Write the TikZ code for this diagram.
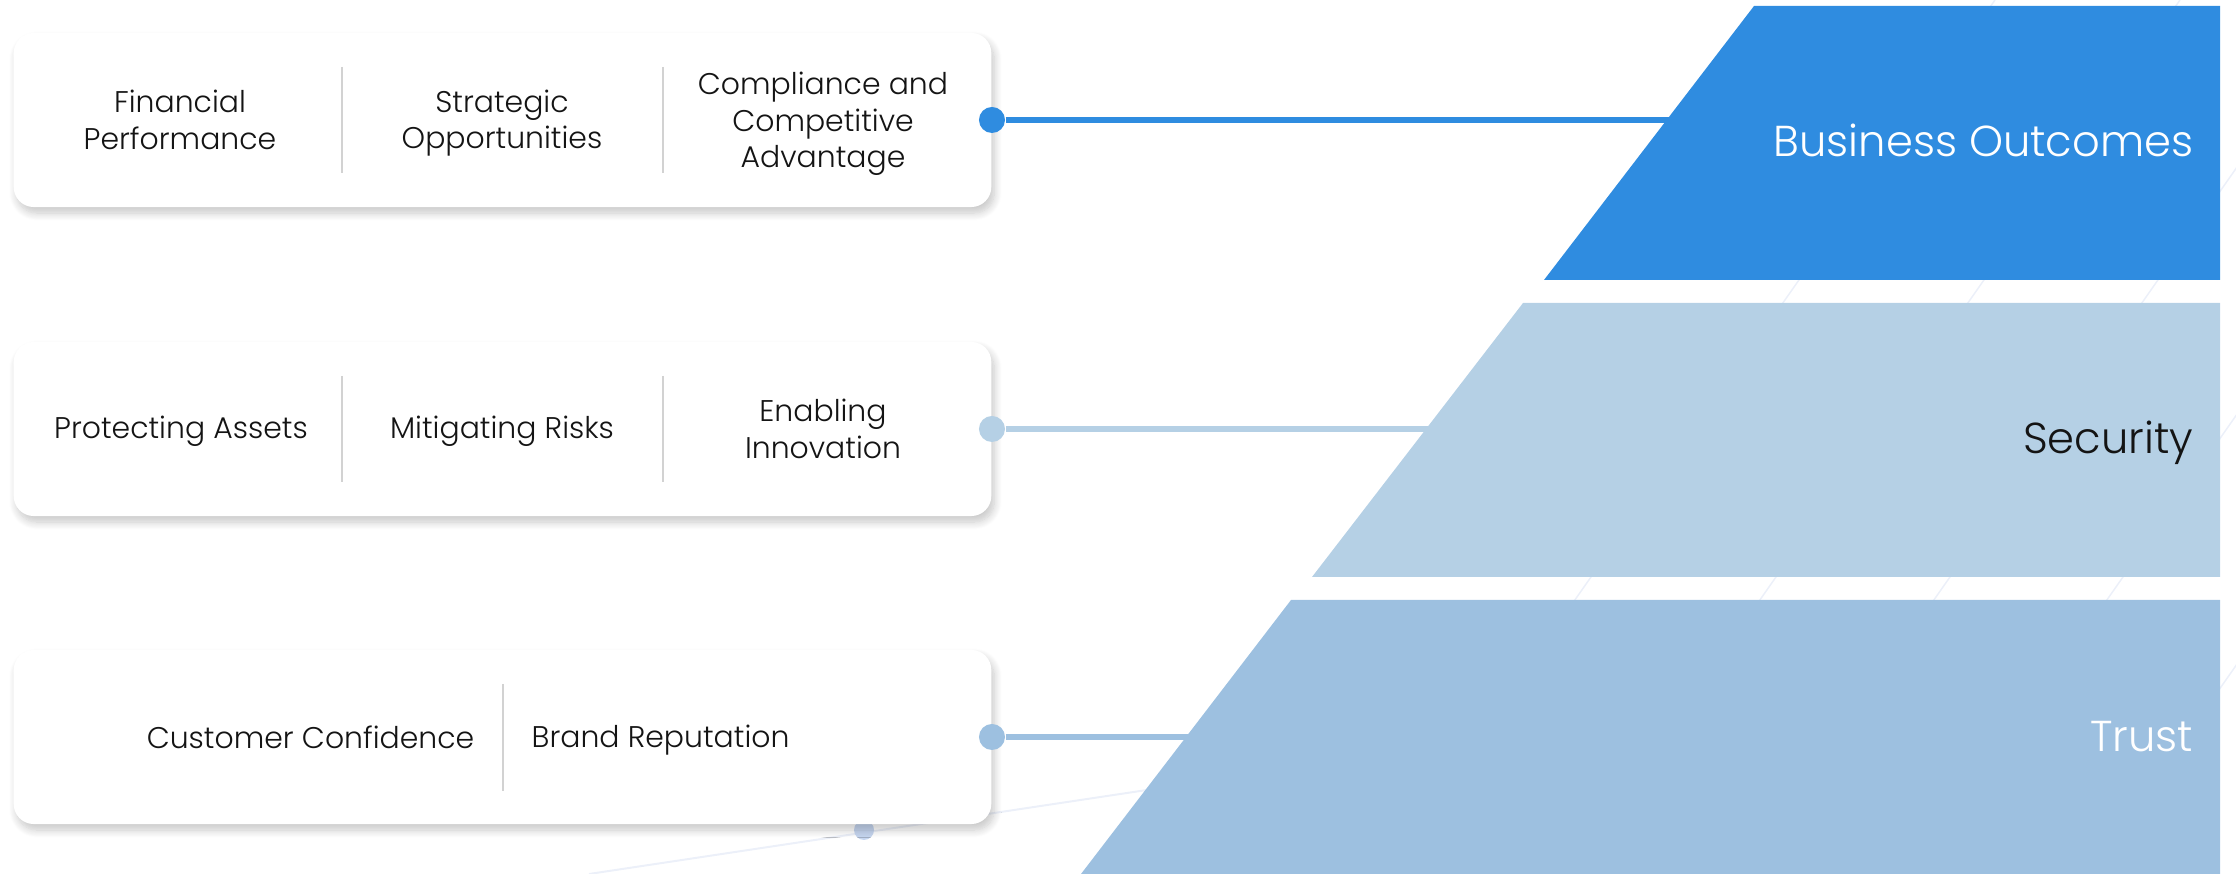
\documentclass[tikz,border=0pt]{standalone}
\usepackage{fontspec}
\setmainfont{Poppins}[UprightFont=* Light]
\usetikzlibrary{positioning, calc, shadows.blur}
\definecolor{outcomeblue}{RGB}{47,140,224}
\definecolor{securityblue}{RGB}{181,208,229}
\definecolor{trustblue}{RGB}{157,192,224}
\definecolor{dividergray}{RGB}{210,210,210}
\definecolor{faintline}{RGB}{236,240,249}
\definecolor{faintdot}{RGB}{198,214,240}
\definecolor{textblack}{RGB}{20,20,20}

\begin{document}
\begin{tikzpicture}[x=0.01cm, y=-0.01cm,
    card/.style={fill=white, rounded corners=0.2cm, minimum width=9.77cm, minimum height=1.74cm,
      blur shadow={shadow xshift=0.03cm, shadow yshift=-0.06cm, shadow opacity=22, shadow blur steps=10}},
    itemtext/.style={align=center, font=\fontsize{8.5}{10.3}\selectfont, text=textblack, inner sep=0pt},
    layerlabel/.style={anchor=base east, font=\fontsize{12.3}{14}\selectfont, inner sep=0pt},
    layerdot/.style={circle, inner sep=0pt, minimum size=0.26cm},
    link/.style={line width=0.06cm},
    divider/.style={dividergray, line width=0.015cm}]
  \useasboundingbox (0,0) rectangle (2236,874);

  % faint background strokes
  \foreach \x in {1383,1568,1742,1915,2090} {
    \draw[faintline, line width=0.015cm] (\x,874) -- ++(612,-874);
  }
  \draw[faintline, line width=0.02cm] (589,874) -- (1200,782);
  \fill[faintdot] (864,830) circle (10);

  % cards
  \node[card] (outcomecard) at (502.5,120) {};
  \node[card] (securitycard) at (502.5,429) {};
  \node[card] (trustcard) at (502.5,737) {};

  \foreach \x in {342,663} {
    \draw[divider] (\x,67) -- (\x,173);
    \draw[divider] (\x,376) -- (\x,482);
  }
  \draw[divider] (503,684) -- (503,791);

  \node[itemtext] (financial) at (180,120) {Financial\\Performance};
  \node[itemtext] (strategic) at (502,123) {Strategic\\Opportunities};
  \node[itemtext] (compliance) at (823,124) {Compliance and\\Competitive\\Advantage};

  \node[itemtext] (protecting) at (181,431) {Protecting Assets};
  \node[itemtext] (mitigating) at (502,431) {Mitigating Risks};
  \node[itemtext] (enabling) at (823,429) {Enabling\\Innovation};

  \node[itemtext, anchor=east] (customer) at (475,737) {Customer Confidence};
  \node[itemtext, anchor=west] (brand) at (531,740) {Brand Reputation};

  % dots and links
  \node[layerdot, fill=outcomeblue] (outcomedot) at (outcomecard.east) {};
  \node[layerdot, fill=securityblue] (securitydot) at (securitycard.east) {};
  \node[layerdot, fill=trustblue] (trustdot) at (trustcard.east) {};

  \coordinate (outcomeedge) at (1720,120);
  \coordinate (securityedge) at (1480,429);
  \coordinate (trustedge) at (1240,737);
  \draw[link, outcomeblue] (outcomedot) -- (outcomeedge);
  \draw[link, securityblue] (securitydot) -- (securityedge);
  \draw[link, trustblue] (trustdot) -- (trustedge);

  % layers
  \fill[outcomeblue] (1754,6) -- (2220,6) -- (2220,280) -- (1544,280) -- cycle;
  \fill[securityblue] (1523,303) -- (2220,303) -- (2220,577) -- (1312,577) -- cycle;
  \fill[trustblue] (1291,600) -- (2220,600) -- (2220,874) -- (1081,874) -- cycle;

  \node[layerlabel, text=white] (outcomelabel) at (2194,157) {Business Outcomes};
  \node[layerlabel, text=textblack] (securitylabel) at (2194,454) {Security};
  \node[layerlabel, text=white] (trustlabel) at (2194,752) {Trust};
\end{tikzpicture}
\end{document}
